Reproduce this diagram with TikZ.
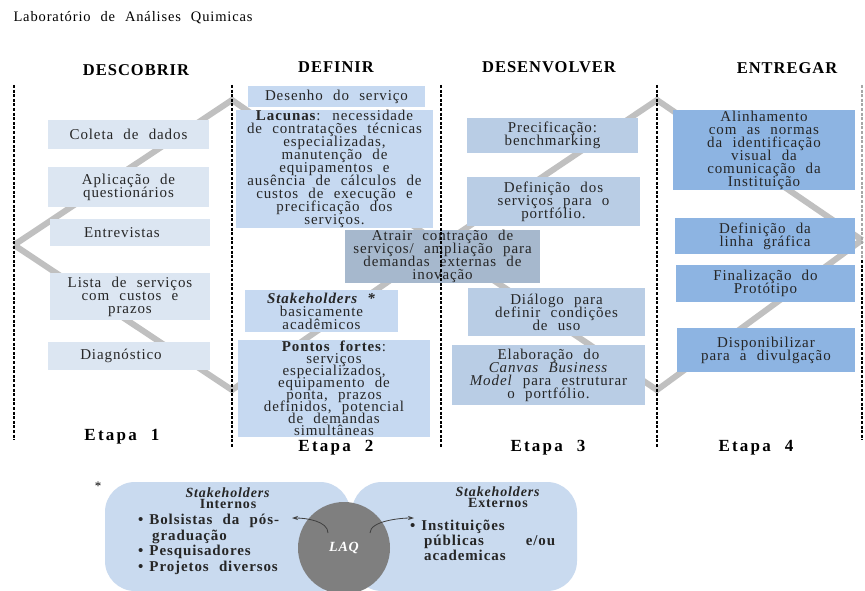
\documentclass[tikz,border=0pt]{standalone}
\usepackage{fontspec}
\setmainfont{Liberation Serif}
\newfontfamily\largo[LetterSpace=6,WordSpace=2.2]{Liberation Serif}
\newfontfamily\etapafont[LetterSpace=13,WordSpace=2.2]{Liberation Serif}
\usetikzlibrary{arrows.meta}
\setlength{\lineskiplimit}{-20pt}

\definecolor{azulA}{HTML}{DCE6F2}
\definecolor{azulB}{HTML}{C6D9F1}
\definecolor{azulC}{HTML}{B9CDE5}
\definecolor{azulD}{HTML}{8DB4E2}
\definecolor{azulE}{HTML}{A6B8CD}
\definecolor{azulF}{HTML}{C9DAEF}
\definecolor{trilhacor}{HTML}{C0C0C0}
\definecolor{cinzaLAQ}{HTML}{7F7F7F}

\begin{document}
\begin{tikzpicture}[x=1pt,y=-1pt,
        caixa/.style={inner sep=0pt, align=center, text=black!85,
                font=\largo\fontsize{15}{13}\selectfont},
        fase/.style={font=\largo\fontsize{16.5}{16}\selectfont\bfseries},
        etapa/.style={font=\etapafont\fontsize{17}{16}\selectfont\bfseries},
        trilha/.style={draw=trilhacor, line width=6pt},
        divisa/.style={line width=2.2pt, dash pattern=on 3pt off 1.6pt},
        seta/.style={-{Stealth[length=6pt,width=4pt]}, line width=0.8pt, draw=black!75}]

        \fill[white] (0,0) rectangle (865,591);
        \useasboundingbox (0,0) rectangle (865,591);

        \node[anchor=west, font=\largo\fontsize{14.5}{14}\selectfont] at (10,18) (titulo) {Laboratório de Análises Quimicas};

        \node[fase] at (136,70) (descobrir) {DESCOBRIR};
        \node[fase] at (336,67) (definir) {DEFINIR};
        \node[fase] at (549,67) (desenvolver) {DESENVOLVER};
        \node[fase] at (787,68) (entregar) {ENTREGAR};

        \coordinate (v0) at (14,245);
        \coordinate (v1) at (232,100);
        \coordinate (v2) at (232,390);
        \coordinate (v3) at (441,245);
        \coordinate (v4) at (657,100);
        \coordinate (v5) at (657,390);
        \coordinate (v6) at (862,240);
        \draw[trilha] (v0) -- (v1) -- (v3) -- (v4) -- (v6);
        \draw[trilha] (v0) -- (v2) -- (v3) -- (v5) -- (v6);

        \node[caixa, fill=azulA, minimum width=161pt, minimum height=29pt] at (128.5,134.5) (coleta) {Coleta de dados};
        \node[caixa, fill=azulA, minimum width=161pt, minimum height=40pt] at (128.5,187) (aplicacao) {Aplicação de\\questionários};
        \node[caixa, fill=azulA, minimum width=160pt, minimum height=27pt] at (130,232.5) (entrevistas) {Entrevistas\hspace*{16pt}};
        \node[caixa, fill=azulA, minimum width=160pt, minimum height=47pt] at (130,296.5) (lista) {Lista de serviços\\com custos e\\prazos};
        \node[caixa, fill=azulA, minimum width=162pt, minimum height=28pt] at (129,356) (diagnostico) {Diagnóstico\hspace*{16pt}};

        \node[caixa, fill=azulB, minimum width=177pt, minimum height=21pt] at (336.5,96.5) (desenho) {Desenho do serviço};
        \node[caixa, fill=azulB, minimum width=197pt, minimum height=118pt] at (334.5,169) (lacunas) {\textbf{Lacunas}: necessidade\\de contratações técnicas\\especializadas,\\manutenção de\\equipamentos e\\ausência de cálculos de\\custos de execução e\\precificação dos\\serviços.};
        \node[caixa, fill=azulE, minimum width=195pt, minimum height=49pt] at (442.5,256.5) (atrair) {Atrair contração de\\serviços/ ampliação para\\demandas externas de\\inovação};
        \node[caixa, fill=azulB, minimum width=153pt, minimum height=42pt] at (321.5,311) (stake) {\textbf{\textit{Stakeholders *}}\\basicamente\\acadêmicos};
        \node[caixa, fill=azulB, minimum width=192pt, minimum height=97pt,
                font=\largo\fontsize{15}{12}\selectfont] at (334,388.5) (pontos) {\textbf{Pontos fortes}:\\serviços\\especializados,\\equipamento de\\ponta, prazos\\definidos, potencial\\de demandas\\simultâneas};

        \node[caixa, fill=azulC, minimum width=171pt, minimum height=35pt] at (552.5,135.5) (precif) {Precificação:\\benchmarking};
        \node[caixa, fill=azulC, minimum width=173pt, minimum height=49pt] at (553.5,201.5) (defserv) {Definição dos\\serviços para o\\portfólio.};
        \node[caixa, fill=azulC, minimum width=177pt, minimum height=48pt] at (556.5,312) (dialogo) {Diálogo para\\definir condições\\de uso};
        \node[caixa, fill=azulC, minimum width=193pt, minimum height=60pt] at (548.5,375) (canvas) {Elaboração do\\\textit{Canvas Business}\\\textit{Model} para estruturar\\o portfólio.};

        \node[caixa, fill=azulD, minimum width=182pt, minimum height=80pt] at (764,150) (alinha) {Alinhamento\\com as normas\\da identificação\\visual da\\comunicação da\\Instituição};
        \node[caixa, fill=azulD, minimum width=180pt, minimum height=36pt] at (765,236) (linha) {Definição da\\linha gráfica};
        \node[caixa, fill=azulD, minimum width=179pt, minimum height=37pt] at (765.5,283.5) (prototipo) {Finalização do\\Protótipo};
        \node[caixa, fill=azulD, minimum width=178pt, minimum height=44pt] at (766,350) (divulga) {Disponibilizar\\para a divulgação};

        \draw[divisa] (14,85) -- (14,440);
        \draw[divisa] (232,85) -- (232,447);
        \draw[divisa] (441,85) -- (441,447);
        \draw[divisa] (657,85) -- (657,447);
        \draw[divisa, black!35, line width=1.2pt] (862,85) -- (862,260);
        \draw[divisa, line width=1.6pt] (862,260) -- (862,440);

        \node[etapa] at (122,437) (etapa1) {Etapa 1};
        \node[etapa] at (336,448) (etapa2) {Etapa 2};
        \node[etapa] at (548,448) (etapa3) {Etapa 3};
        \node[etapa] at (756,448) (etapa4) {Etapa 4};

        \node[font=\fontsize{13}{13}\selectfont] at (98,486) (asterisco) {*};
        \fill[azulF, rounded corners=30pt] (105,482) rectangle (350,591);
        \fill[azulF, rounded corners=30pt] (352,482) rectangle (577,591);
        \node[circle, fill=cinzaLAQ, minimum size=92pt, inner sep=0pt, text=white,
                font=\largo\fontsize{14}{14}\selectfont\bfseries\itshape] at (344,548) (laq) {LAQ};

        \node[align=center, inner sep=0pt, font=\largo\fontsize{14}{11.5}\selectfont\bfseries, text=black!85] at (228,498) (internos) {\textit{Stakeholders}\\Internos};
        \node[anchor=north west, inner sep=0pt, align=left, font=\largo\fontsize{15}{15.6}\selectfont\bfseries, text=black!85] at (138,514) (listaint) {\textbullet\hspace*{6pt}Bolsistas da pós-\\\hspace*{14pt}graduação\\\textbullet\hspace*{6pt}Pesquisadores\\\textbullet\hspace*{6pt}Projetos diversos};
        \node[align=center, inner sep=0pt, font=\largo\fontsize{14}{11.5}\selectfont\bfseries, text=black!85] at (498,497) (externos) {\textit{Stakeholders}\\Externos};
        \node[anchor=north west, inner sep=0pt, text width=145pt, align=left, font=\largo\fontsize{15}{15}\selectfont\bfseries, text=black!85] at (410,520) (listaext) {\textbullet\hspace*{6pt}Instituições\\\hspace*{14pt}públicas\hfill e/ou\\\hspace*{14pt}academicas};

        \coordinate (cauda1) at (328,533);
        \coordinate (ponta1) at (292,518);
        \coordinate (cauda2) at (370,533);
        \coordinate (ponta2) at (414,518);
        \draw[seta] (cauda1) .. controls +(0,-12) and +(14,0) .. (ponta1);
        \draw[seta] (cauda2) .. controls +(0,-12) and +(-14,0) .. (ponta2);

    \end{tikzpicture}
\end{document}
